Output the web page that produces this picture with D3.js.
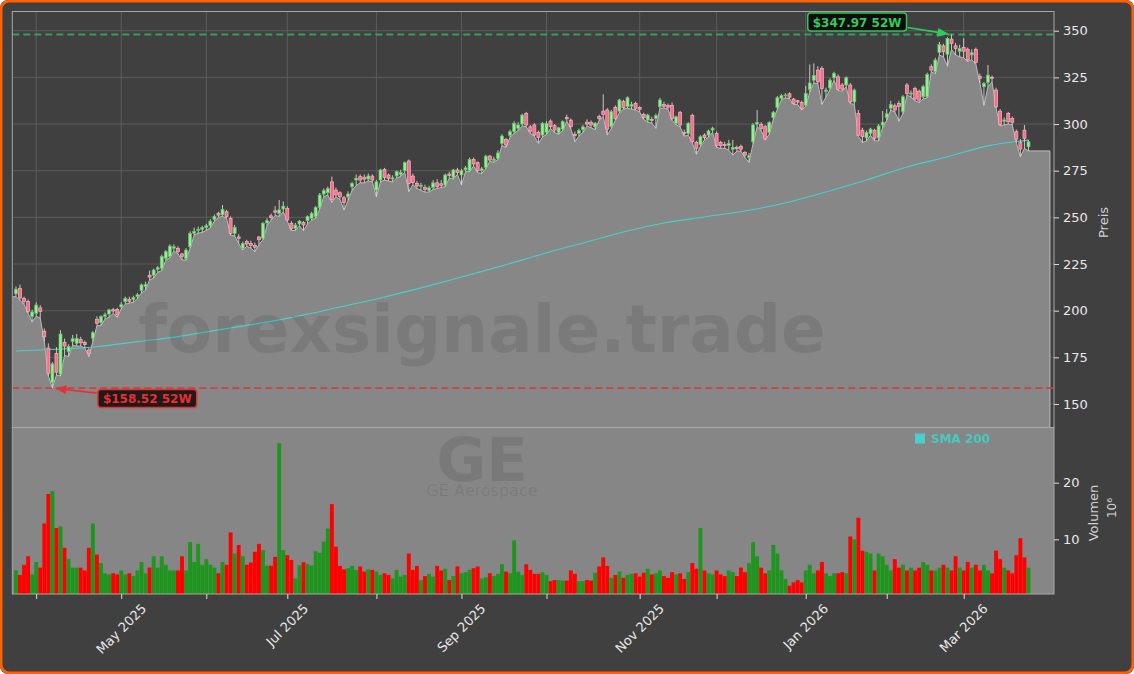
<!DOCTYPE html>
<html><head><meta charset="utf-8">
<script src="https://cdnjs.cloudflare.com/ajax/libs/d3/7.8.5/d3.min.js"></script>
<style>
html,body{margin:0;padding:0;background:#ffffff;}
svg{display:block;font-family:"DejaVu Sans",sans-serif;}
</style></head><body>
<svg id="c" width="1134" height="674"></svg>
<script>
// ---------------- DATA ----------------
const ticker = "GE";
const companyName = "GE Aerospace";
const watermark = "forexsignale.trade";
// trading-day index of first session of each month, and the month it marks
const tickIdx   = [5, 26, 47, 67, 89, 110, 131, 154, 173, 195, 215, 234];
const tickDates = ["2025-04-01","2025-05-01","2025-06-02","2025-07-01","2025-08-01","2025-09-02",
                   "2025-10-01","2025-11-03","2025-12-01","2026-01-02","2026-02-02","2026-03-02"];
const priceTicks = [150, 175, 200, 225, 250, 275, 300, 325, 350];
const volTicks = [10, 20];

const opens = [
209.0,212.0,206.5,205.0,196.8,198.6,201.5,189.0,180.0,161.5,
177.0,166.0,183.0,178.0,183.5,182.5,184.5,183.0,179.0,185.2,
195.4,193.6,197.0,198.2,200.5,200.7,202.0,204.8,206.0,206.0,
207.5,210.7,213.0,219.0,219.0,222.2,222.7,228.0,229.0,233.5,
233.4,230.4,228.0,234.3,241.5,243.0,243.5,244.5,245.5,249.0,
252.2,251.3,253.0,249.5,241.4,239.5,233.4,237.0,236.0,235.0,
239.5,238.8,247.0,250.8,253.5,252.0,254.5,254.8,246.8,244.0,
246.5,247.3,248.2,249.5,250.4,255.4,262.5,263.2,269.0,264.6,
263.2,260.5,261.0,266.4,270.0,271.8,271.5,270.5,272.1,264.6,
270.0,275.7,272.7,270.5,272.2,273.0,275.0,280.2,272.1,268.2,
266.5,266.0,264.5,266.0,268.5,268.0,267.3,273.2,271.4,275.4,
272.7,275.5,275.0,281.0,279.3,275.0,276.8,282.8,280.5,281.5,
289.6,291.8,294.0,296.0,297.7,300.0,305.7,298.5,299.5,295.5,
294.1,295.5,301.6,299.1,295.5,297.3,303.5,302.1,294.5,295.0,
297.0,301.0,300.8,298.5,304.0,306.9,307.5,298.6,308.8,306.9,
312.0,309.3,309.5,311.0,308.8,305.2,302.1,302.5,303.0,309.3,
310.5,310.0,310.0,300.4,306.3,295.5,295.0,304.5,290.2,289.0,
294.1,294.1,296.8,295.0,290.2,289.0,288.5,286.5,287.5,288.0,
284.8,282.0,290.5,300.0,299.8,298.6,295.5,303.4,308.8,313.8,
315.2,316.2,313.4,312.5,311.6,310.1,318.5,323.5,328.9,329.8,
317.5,319.4,324.8,325.3,320.9,320.9,320.9,311.9,305.7,296.7,
292.6,295.0,296.7,292.6,299.5,303.5,308.5,309.8,311.0,306.6,
320.9,316.0,319.0,317.6,314.6,314.6,330.7,328.0,338.4,341.9,
337.3,345.5,341.9,339.0,341.0,340.1,337.0,340.0,325.5,320.0,
322.3,325.0,318.2,306.9,301.5,305.7,303.0,295.9,290.1,296.7,
287.8];
const highs = [
213.0,214.0,207.5,206.0,200.5,204.5,203.0,190.5,182.5,172.5,
180.5,189.5,185.0,182.0,187.0,187.5,186.0,184.0,180.0,189.0,
197.0,197.5,199.0,201.0,201.5,201.5,204.5,207.5,207.5,208.0,
209.5,214.5,215.5,221.5,222.5,224.0,230.0,232.5,235.5,235.5,
234.5,231.0,233.5,242.5,244.5,245.0,245.5,246.5,249.0,251.5,
253.0,256.6,254.0,250.5,246.0,241.0,237.0,238.0,237.5,236.5,
240.0,247.5,249.5,252.0,256.0,259.3,258.5,256.0,248.0,247.0,
248.5,248.0,251.0,253.0,256.0,263.0,265.5,266.5,271.8,266.0,
264.0,261.5,264.0,269.0,273.0,273.0,273.0,273.5,273.0,270.0,
276.0,276.5,273.5,272.5,275.0,275.5,280.0,281.0,273.5,269.5,
268.5,267.5,267.0,270.0,270.5,270.0,273.5,274.5,276.0,276.5,
276.0,277.5,282.0,282.0,280.0,277.0,283.5,283.5,282.5,286.0,
294.5,292.5,297.0,301.5,301.0,305.5,306.5,299.5,300.5,296.5,
301.0,301.5,302.5,300.0,298.5,302.0,305.0,303.0,296.0,297.5,
299.5,302.5,302.0,301.0,305.0,315.9,308.5,307.5,310.0,313.5,
313.0,314.8,312.0,312.0,309.5,306.0,305.5,304.0,305.5,314.0,
312.0,311.0,311.5,304.5,307.0,297.0,301.0,305.5,291.0,294.0,
295.0,297.0,298.5,296.0,291.0,290.5,291.5,291.5,288.5,289.0,
285.5,284.5,300.5,307.5,301.0,299.5,301.5,307.0,315.0,316.0,
316.5,317.0,314.0,313.0,312.5,320.5,331.9,332.5,331.0,331.0,
319.5,324.5,328.0,326.5,322.0,325.5,322.0,319.0,307.5,298.0,
296.5,298.0,297.5,300.0,307.0,308.0,312.5,311.0,312.5,315.5,
322.0,318.0,320.0,318.5,321.0,327.5,332.0,335.5,344.0,343.0,
346.5,347.97,343.5,342.5,346.0,341.0,340.0,341.0,327.0,322.5,
331.6,326.0,319.5,308.0,303.5,306.5,304.0,297.0,292.0,299.5,
291.5];
const lows = [
207.5,205.5,203.5,198.5,194.0,197.0,196.0,183.5,165.0,158.52,
165.5,165.0,176.0,175.5,181.5,181.0,181.0,180.0,175.4,183.5,
192.0,192.0,195.5,196.5,198.5,196.5,201.0,203.5,204.0,204.5,
206.5,209.5,211.0,216.5,217.5,220.5,221.5,227.0,228.5,232.0,
230.5,227.2,227.0,233.5,240.5,241.5,242.0,243.0,244.5,248.0,
250.0,250.5,249.5,240.5,240.0,236.0,232.5,234.5,233.5,231.6,
235.5,238.0,245.5,248.5,251.0,250.5,253.0,248.0,242.9,243.0,
245.5,242.9,246.5,248.5,249.5,254.5,261.0,262.0,258.0,261.0,
259.5,254.0,259.0,264.5,267.0,268.5,268.5,269.5,269.0,261.0,
269.0,270.0,269.5,269.0,271.0,272.0,274.0,263.8,267.5,265.5,
264.5,263.5,263.5,265.0,265.5,266.0,266.5,271.0,270.5,273.0,
267.3,274.5,274.5,277.5,274.0,273.5,276.0,280.0,279.5,281.0,
288.5,287.5,293.0,295.0,296.5,299.0,298.5,295.0,293.5,289.6,
293.0,294.5,297.5,295.5,294.5,296.5,301.5,297.5,290.5,293.5,
295.5,299.0,298.0,297.0,302.0,304.0,294.1,297.5,302.0,306.0,
308.0,308.5,308.0,307.5,306.5,302.5,301.0,300.5,297.7,308.5,
308.5,308.0,302.0,299.5,298.5,293.5,294.0,290.0,283.8,288.0,
291.5,293.0,295.5,287.5,287.0,287.0,286.0,283.4,285.5,285.5,
282.0,279.5,289.5,298.5,296.5,291.5,294.5,302.5,308.0,313.0,
314.0,313.5,310.5,310.5,307.5,309.5,317.0,322.0,321.5,310.5,
314.5,318.5,323.5,318.0,317.5,320.0,311.0,310.5,293.5,290.1,
291.0,294.0,291.0,291.0,298.0,302.0,307.5,306.5,301.5,305.5,
315.5,314.5,312.5,311.5,313.5,314.0,328.0,327.0,337.0,336.0,
331.0,340.0,337.0,336.0,335.5,333.5,334.5,332.0,322.0,310.0,
320.0,322.5,308.5,299.0,299.5,300.0,299.5,290.0,282.5,287.0,
285.6];
const closes = [
211.5,206.8,205.0,199.5,199.3,203.0,199.5,186.0,166.5,171.5,
167.0,187.5,181.0,180.8,185.0,185.2,182.8,181.8,177.2,188.2,
193.3,196.8,197.8,200.4,199.8,197.8,203.2,206.6,205.0,207.0,
208.5,213.8,214.0,218.0,221.8,223.0,229.0,231.6,234.6,234.2,
231.6,229.0,232.5,241.4,242.5,243.5,244.5,245.5,248.0,250.5,
251.2,254.3,250.4,241.4,244.7,238.8,236.0,235.7,235.0,234.0,
238.0,246.8,248.2,250.0,252.8,254.0,256.0,248.6,244.0,245.9,
248.0,245.9,250.4,252.1,255.4,262.0,264.3,265.5,259.6,262.0,
261.0,257.9,262.5,268.2,271.0,270.0,270.5,272.2,270.0,269.1,
275.4,271.4,270.9,271.2,274.5,274.0,279.3,268.2,268.6,266.8,
267.2,265.0,265.8,268.5,266.5,267.0,272.7,272.5,275.4,274.0,
275.0,276.5,281.0,278.6,275.0,276.0,282.8,280.7,281.2,284.5,
293.6,288.8,295.9,300.4,299.5,304.8,299.5,296.2,294.1,292.7,
300.4,300.4,298.6,296.8,298.0,301.3,302.8,298.6,293.8,296.5,
298.5,300.0,299.5,300.5,303.0,305.2,297.3,306.6,303.0,312.9,
308.8,314.1,310.5,308.4,307.8,303.4,304.8,302.0,304.5,312.9,
309.5,309.0,303.0,303.9,299.5,295.0,300.4,290.5,287.0,293.2,
292.7,296.3,297.8,288.4,288.4,288.5,289.5,287.5,286.8,286.5,
283.4,283.0,299.5,300.8,297.7,292.0,300.9,306.3,314.1,315.2,
315.6,314.4,311.0,311.8,308.4,316.4,322.0,326.0,322.6,319.0,
318.2,323.5,327.0,318.7,318.7,324.8,311.9,318.2,294.0,293.2,
295.5,297.3,292.3,299.0,301.0,305.5,310.5,307.5,309.5,314.6,
316.4,316.6,313.4,312.8,320.0,326.6,328.9,334.3,342.6,338.7,
345.9,343.2,340.5,340.5,339.0,334.3,338.2,333.0,324.5,321.8,
326.2,324.6,309.2,299.8,302.2,301.2,300.9,291.9,286.6,292.3,
290.5];
// volume in millions of shares
const volumes = [
4.5,3.7,5.5,7.0,3.8,6.0,5.0,12.8,18.0,18.5,
12.0,12.3,8.5,6.5,5.0,5.0,5.0,4.5,8.5,12.8,
7.3,5.8,4.0,3.8,4.0,3.8,4.5,3.8,4.0,3.5,
4.5,6.0,4.0,5.0,7.0,5.0,7.0,5.5,4.5,4.5,
4.5,7.0,4.5,9.5,6.0,9.2,5.5,6.5,5.5,5.0,
4.0,6.0,5.5,11.2,7.5,9.0,7.0,5.5,5.9,7.8,
9.2,8.1,5.35,5.35,6.9,27.0,8.1,7.2,6.35,3.1,
5.4,5.95,5.6,5.4,7.9,7.6,9.6,11.9,16.2,8.7,
5.3,4.7,4.9,5.3,4.6,5.2,4.3,4.7,4.6,4.3,
3.7,4.0,3.7,3.1,4.6,3.4,3.7,7.5,4.6,5.3,
2.8,3.5,3.9,3.4,5.3,4.5,4.8,2.8,3.5,5.2,
4.0,4.2,4.6,4.9,5.2,3.1,3.3,4.0,3.5,3.9,
5.6,4.3,4.0,9.8,4.3,3.7,5.6,4.6,3.9,3.9,
4.2,3.7,2.6,2.8,2.8,2.7,2.7,4.5,3.9,2.6,
2.6,2.8,2.7,4.1,5.2,6.8,5.3,3.2,3.7,4.3,
3.2,3.7,3.9,4.0,3.4,4.1,4.8,3.8,4.0,4.5,
3.5,3.2,4.2,3.8,4.0,3.0,4.2,5.8,4.8,12.0,
4.5,4.0,3.8,4.5,3.8,3.5,4.5,4.2,3.5,5.0,
4.2,5.8,9.5,7.0,5.0,4.0,4.5,9.0,7.5,4.5,
3.0,1.8,2.4,2.8,2.4,4.5,5.5,4.0,4.5,6.0,
4.0,3.5,4.0,4.0,4.2,4.0,10.5,10.0,13.8,8.0,
7.8,7.5,4.5,7.5,7.0,5.5,4.5,6.5,5.0,5.5,
4.5,5.0,4.5,5.0,6.0,5.5,4.5,4.5,5.0,5.5,
5.0,4.5,7.0,5.0,4.5,6.0,5.0,5.5,4.5,5.5,
4.5,4.0,8.0,6.5,5.0,4.5,4.0,7.2,10.2,6.8,
5.0];
// 200-day simple moving average, sampled every 10 sessions
const smaIdx  = [0,10,20,30,40,50,60,70,80,90,100,110,120,130,140,150,160,170,180,190,200,210,220,230,240,250];
const smaVals = [178.4,179.3,180.7,183.4,186.1,189.7,193.2,197.2,202.0,206.8,212.2,218.0,224.0,230.4,
                 236.3,242.2,247.0,250.2,253.4,257.7,263.6,270.0,277.0,282.5,288.3,291.4];
const smaLabel = "SMA 200";

// ---------------- LAYOUT ----------------
const W = 1134, H = 674;
const L = 12.3, R = 1054, PT = 11.5, PB = 427.5, VB = 594;
const padL = 0.9, padR = 6.3, tailDays = 5.3;
const n = closes.length;
const C = {
  bg: "#404040", grid: "#5b5b5b", area: "#878787", areaLine: "#bcbcbc",
  up: "#1e961e", down: "#ff0000", upBody: "#9fe79f", upEdge: "#5cc75c",
  dnBody: "#f2708c", dnEdge: "#ffb0c0", wick: "#d6d6d6", sma: "#48d1cc",
  text: "#e8e8e8", hi: "#2ecc5a", lo: "#e83030"
};

const svg = d3.select("#c");
svg.append("rect").attr("x",0).attr("y",0).attr("width",W).attr("height",H).attr("rx",8).attr("fill",C.bg);

const x = d3.scaleLinear().domain([-padL, n - 1 + padR]).range([L, R]);
const y = d3.scaleLinear().domain([137.4, 360.3]).range([PB, PT]);
const yv = d3.scaleLinear().domain([0.34, 29.75]).range([VB, PB]);

const defs = svg.append("defs");
defs.append("clipPath").attr("id","pclip").append("rect").attr("x",L).attr("y",PT).attr("width",R-L).attr("height",PB-PT);
defs.append("clipPath").attr("id","vclip").append("rect").attr("x",L).attr("y",PB).attr("width",R-L).attr("height",VB-PB);
[["ahHi",C.hi],["ahLo",C.lo]].forEach(([id,col])=>{
  defs.append("marker").attr("id",id).attr("viewBox","0 0 10 10").attr("refX",9).attr("refY",5)
    .attr("markerWidth",7).attr("markerHeight",7).attr("orient","auto-start-reverse")
    .append("path").attr("d","M0,1 L10,5 L0,9 z").attr("fill",col);
});

// grid (price panel)
const grid = svg.append("g").attr("clip-path","url(#pclip)");
grid.selectAll("line.h").data(priceTicks).join("line")
  .attr("x1",L).attr("x2",R).attr("y1",d=>y(d)).attr("y2",d=>y(d))
  .attr("stroke",C.grid).attr("stroke-width",1);
grid.selectAll("line.v").data(tickIdx).join("line")
  .attr("x1",d=>x(d)).attr("x2",d=>x(d)).attr("y1",PT).attr("y2",PB)
  .attr("stroke",C.grid).attr("stroke-width",1);

// volume panel background
svg.append("rect").attr("x",L).attr("y",PB).attr("width",R-L).attr("height",VB-PB).attr("fill","#868686");

// area under lows
const areaPts = [{i:-padL, v:lows[0]}].concat(lows.map((v,i)=>({i,v}))).concat([{i:n-1+tailDays, v:lows[n-1]}]);
const pg = svg.append("g").attr("clip-path","url(#pclip)");
pg.append("path").datum(areaPts)
  .attr("d", d3.area().x(d=>x(d.i)).y0(PB).y1(d=>y(d.v)))
  .attr("fill",C.area);
pg.append("path").datum(areaPts.concat([{i:n-1+tailDays, v:y.invert(PB)}]))
  .attr("d", d3.line().x(d=>x(d.i)).y(d=>y(d.v)))
  .attr("fill","none").attr("stroke",C.areaLine).attr("stroke-width",1);

// watermark
const wm = svg.append("g").attr("fill","rgba(0,0,0,0.09)").attr("text-anchor","middle");
wm.append("text").attr("x",482).attr("y",352).attr("font-size",66).attr("font-weight","bold").text(watermark);
wm.append("text").attr("x",482).attr("y",481).attr("font-size",61).attr("font-weight","bold").text(ticker);
wm.append("text").attr("x",482).attr("y",496).attr("font-size",16).text(companyName);

// 52W lines
const hi52 = d3.max(highs), lo52 = d3.min(lows);
const iHi = highs.indexOf(hi52), iLo = lows.indexOf(lo52);
pg.append("line").attr("x1",L).attr("x2",R).attr("y1",y(hi52)).attr("y2",y(hi52))
  .attr("stroke","#3aa564").attr("stroke-width",2).attr("stroke-dasharray","7,4").attr("opacity",0.9);
pg.append("line").attr("x1",L).attr("x2",R).attr("y1",y(lo52)).attr("y2",y(lo52))
  .attr("stroke","#d63a3a").attr("stroke-width",1.6).attr("stroke-dasharray","7,4").attr("opacity",0.9);

// SMA
pg.append("path").datum(smaIdx.map((i,k)=>({i, v:smaVals[k]})))
  .attr("d", d3.line().x(d=>x(d.i)).y(d=>y(d.v)).curve(d3.curveMonotoneX))
  .attr("fill","none").attr("stroke",C.sma).attr("stroke-width",1.1);

// candles
const bw = (x(1)-x(0))*0.74;
const cg = pg.append("g");
const cdata = closes.map((c,i)=>({i,o:opens[i],h:highs[i],l:lows[i],c}));
cg.selectAll("line").data(cdata).join("line")
  .attr("x1",d=>x(d.i)).attr("x2",d=>x(d.i)).attr("y1",d=>y(d.h)).attr("y2",d=>y(d.l))
  .attr("stroke",C.wick).attr("stroke-width",0.9);
cg.selectAll("rect").data(cdata).join("rect")
  .attr("x",d=>x(d.i)-bw/2).attr("width",bw)
  .attr("y",d=>y(Math.max(d.o,d.c)))
  .attr("height",d=>Math.max(0.8, Math.abs(y(d.o)-y(d.c))))
  .attr("fill",d=>d.c>=d.o?C.upBody:C.dnBody)
  .attr("stroke",d=>d.c>=d.o?C.upEdge:C.dnEdge).attr("stroke-width",0.7);

// volume bars
const vw = (x(1)-x(0))*0.96;
svg.append("g").attr("clip-path","url(#vclip)").selectAll("rect").data(cdata).join("rect")
  .attr("x",d=>x(d.i)-vw/2).attr("width",vw)
  .attr("y",d=>yv(volumes[d.i])).attr("height",d=>VB-yv(volumes[d.i]))
  .attr("fill",d=>d.c>=d.o?C.up:C.down);

// spines
svg.append("rect").attr("x",L).attr("y",PT).attr("width",R-L).attr("height",PB-PT)
  .attr("fill","none").attr("stroke","#a6a6a6").attr("stroke-width",1);
svg.append("rect").attr("x",L).attr("y",PB).attr("width",R-L).attr("height",VB-PB)
  .attr("fill","none").attr("stroke","#a8a8a8").attr("stroke-width",1);

// axes
function styleAxis(g){
  g.select(".domain").remove();
  g.selectAll(".tick line").attr("stroke","#dddddd");
  g.selectAll(".tick text").attr("fill",C.text).attr("font-size",13).attr("font-family","DejaVu Sans");
}
svg.append("g").attr("transform",`translate(${R},0)`)
  .call(d3.axisRight(y).tickValues(priceTicks).tickSize(5).tickPadding(4)).call(styleAxis);
svg.append("g").attr("transform",`translate(${R},0)`)
  .call(d3.axisRight(yv).tickValues(volTicks).tickSize(5).tickPadding(4)).call(styleAxis);
svg.append("g").attr("transform",`translate(0,${VB})`)
  .call(d3.axisBottom(x).tickValues(tickIdx).tickSize(5).tickFormat("")).call(styleAxis);

const fmt = d3.timeFormat("%b %Y"), parse = d3.timeParse("%Y-%m-%d");
const xl = svg.append("g");
tickIdx.forEach((ti,k)=>{
  if (k % 2 === 0) return;
  const t = xl.append("text").attr("font-size",13).attr("fill",C.text)
    .attr("text-anchor","middle").attr("dominant-baseline","central").text(fmt(parse(tickDates[k])));
  const len = t.node().getComputedTextLength();
  const cy = VB + 7 + (len + 15) * 0.7071 / 2;
  t.attr("x",x(ti)).attr("y",cy).attr("transform",`rotate(-45,${x(ti)},${cy})`);
});

// axis titles
svg.append("text").attr("transform","translate(1108,222.5) rotate(-90)").attr("text-anchor","middle")
  .attr("font-size",13).attr("fill","#d0d0d0").text("Preis");
svg.append("text").attr("transform","translate(1098,513) rotate(-90)").attr("text-anchor","middle")
  .attr("font-size",13).attr("fill","#d0d0d0").text("Volumen");
svg.append("text").attr("transform","translate(1116,508) rotate(-90)").attr("text-anchor","middle")
  .attr("font-size",12).attr("fill","#d0d0d0").text("10⁶");

// legend
svg.append("rect").attr("x",915).attr("y",433.5).attr("width",10).attr("height",10).attr("fill",C.sma);
svg.append("text").attr("x",931).attr("y",442.5).attr("font-size",12).attr("font-weight","bold")
  .attr("fill","#45c8c0").text(smaLabel);

// annotations
function note(i, v, dx, dy, col, bg, txt, marker, left){
  const tx = x(i), ty = y(v);
  const g = svg.append("g");
  const t = g.append("text").attr("font-size",12).attr("font-weight","bold").attr("fill",col)
    .attr("dominant-baseline","central").text(txt);
  const len = t.node().getComputedTextLength();
  const bwid = len + 10, bh = 18;
  const bx = left ? tx + dx : tx + dx - bwid, by = ty + dy - bh/2;
  g.insert("rect","text").attr("x",bx).attr("y",by).attr("width",bwid).attr("height",bh)
    .attr("rx",3).attr("fill",bg).attr("stroke",col).attr("stroke-width",1.5).attr("opacity",0.95);
  t.attr("x",bx+5).attr("y",by+bh/2+0.5);
  const sx = left ? bx - 1 : bx + bwid + 1, sy = left ? by + 3.5 : by + bh - 3.5;
  const ang = Math.atan2(ty - sy, tx - sx);
  g.append("line").attr("x1",sx).attr("y1",sy).attr("x2",tx - 4*Math.cos(ang)).attr("y2",ty - 4*Math.sin(ang))
    .attr("stroke",col).attr("stroke-width",1.6).attr("marker-end",`url(#${marker})`);
}
note(iHi, hi52, -45, -12.5, C.hi, "#0b0b0b", `$${hi52.toFixed(2)} 52W`, "ahHi", false);
note(iLo, lo52, 45.5, 10.5, C.lo, "#1a1414", `$${lo52.toFixed(2)} 52W`, "ahLo", true);

// outer orange frame
svg.append("rect").attr("x",1.2).attr("y",1.2).attr("width",W-2.4).attr("height",H-2.4).attr("rx",8)
  .attr("fill","none").attr("stroke","#ff6000").attr("stroke-width",2.6);
</script>
</body></html>
